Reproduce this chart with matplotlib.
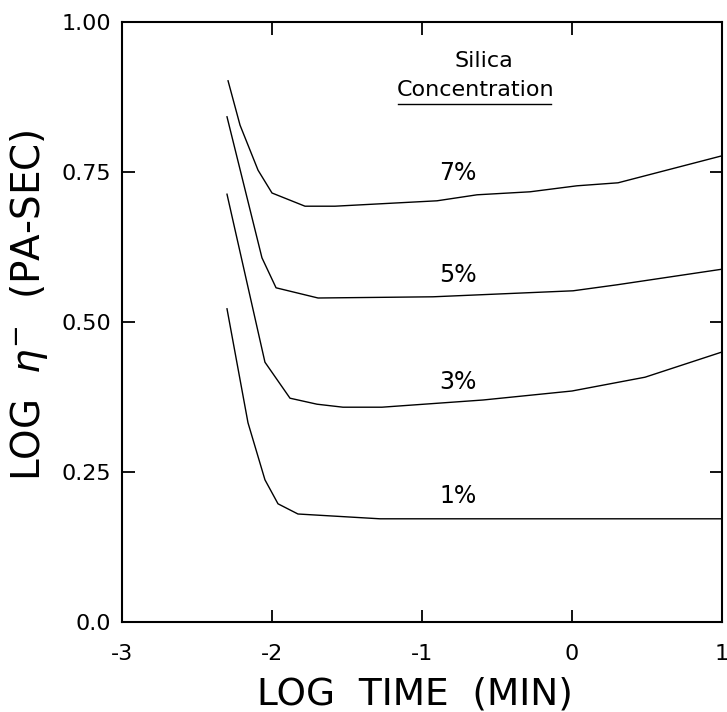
import matplotlib
matplotlib.use("Agg")
import matplotlib.pyplot as plt

plt.rcParams['font.family'] = ['DejaVu Sans']
plt.rcParams['axes.unicode_minus'] = False

# log time (min) vs log viscosity (Pa-sec)
x1 = [-2.30, -2.16, -2.047, -1.96, -1.827, -1.28, 1.0]
y1 = [0.522, 0.332, 0.237, 0.197, 0.180, 0.172, 0.172]

x3 = [-2.30, -2.047, -1.88, -1.70, -1.527, -1.267, -0.593, 0.0, 0.487, 1.0]
y3 = [0.713, 0.433, 0.373, 0.363, 0.358, 0.358, 0.370, 0.385, 0.408, 0.450]

x5 = [-2.30, -2.067, -1.973, -1.693, -0.927, 0.007, 0.30, 1.0]
y5 = [0.842, 0.607, 0.557, 0.540, 0.542, 0.552, 0.562, 0.588]

x7 = [-2.293, -2.213, -2.093, -2.0, -1.78, -1.58, -0.90, -0.633, -0.28, 0.033, 0.307, 1.0]
y7 = [0.902, 0.828, 0.753, 0.715, 0.693, 0.693, 0.702, 0.712, 0.717, 0.727, 0.732, 0.777]

curves = [(x1, y1), (x3, y3), (x5, y5), (x7, y7)]
labels = ['1%', '3%', '5%', '7%']
label_x = [-0.76, -0.76, -0.76, -0.76]
label_y = [0.21, 0.40, 0.578, 0.748]

xticks = [-3, -2, -1, 0, 1]
yticks = [0.0, 0.25, 0.50, 0.75, 1.00]
ytick_labels = ['0.0', '0.25', '0.50', '0.75', '1.00']

fig = plt.figure(figsize=(7.27, 7.12), dpi=100)
ax = fig.add_axes([122 / 727, 1 - 622 / 712, 600 / 727, 600 / 712])

for (xs, ys) in curves:
    ax.plot(xs, ys, color='black', linewidth=1.0)

for lab, lx, ly in zip(labels, label_x, label_y):
    ax.text(lx, ly, lab, fontsize=17, ha='center', va='center')

ax.text(-0.59, 0.935, 'Silica', fontsize=16, ha='center', va='center')
ax.text(-0.64, 0.887, 'Concentration', fontsize=16, ha='center', va='center')
ax.plot([-1.16, -0.14], [0.863, 0.863], color='black', linewidth=1.0)

ax.set_xlim(-3, 1)
ax.set_ylim(0, 1)
ax.set_xticks(xticks)
ax.set_yticks(yticks)
ax.set_yticklabels(ytick_labels)
ax.tick_params(direction='in', length=9, width=1.3, top=True, right=True,
               labelsize=16)
ax.tick_params(axis='x', pad=16)
ax.tick_params(axis='y', pad=8)
for sp in ax.spines.values():
    sp.set_linewidth(1.5)

ax.set_xlabel('LOG  TIME  (MIN)', fontsize=27)
ax.xaxis.set_label_coords(0.488, -0.09)
ax.set_ylabel(r'LOG  $\eta^{-}$  (PA-SEC)', fontsize=28)
ax.yaxis.set_label_coords(-0.12, 0.528)

fig.savefig('out.png', dpi=100)
